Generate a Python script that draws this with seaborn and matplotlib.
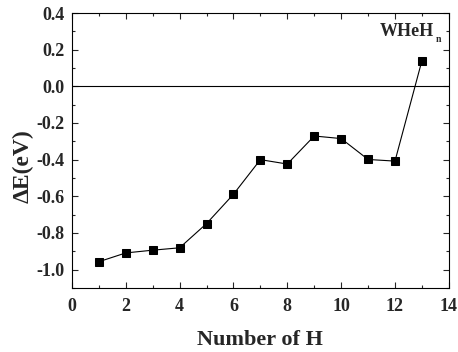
import matplotlib
matplotlib.use("Agg")
import matplotlib.pyplot as plt
import seaborn as sns
import pandas as pd
from matplotlib.ticker import MultipleLocator

# number of H atoms and binding energy change
n_h = [1, 2, 3, 4, 5, 6, 7, 8, 9, 10, 11, 12, 13]
delta_e = [-0.957, -0.909, -0.894, -0.881, -0.749, -0.589, -0.400,
           -0.424, -0.271, -0.285, -0.399, -0.408, 0.140]

df = pd.DataFrame({"n": n_h, "dE": delta_e})

sns.set_style("ticks")
plt.rcParams["font.family"] = ["Liberation Serif", "DejaVu Serif"]
plt.rcParams["font.weight"] = "bold"

fig = plt.figure(figsize=(4.58, 3.52), dpi=100)
ax = fig.add_axes([0.157, 0.182, 0.823, 0.781])

sns.lineplot(data=df, x="n", y="dE", ax=ax, color="black", linewidth=0.8,
             marker="s", markersize=5.5, markeredgecolor="black")
ax.axhline(0, color="black", linewidth=0.8)

ax.set_xlim(0, 14)
ax.set_ylim(-1.1, 0.4)
ax.xaxis.set_major_locator(MultipleLocator(2))
ax.xaxis.set_minor_locator(MultipleLocator(1))
ax.yaxis.set_minor_locator(MultipleLocator(0.1))
ax.set_yticks([-1.0, -0.8, -0.6, -0.4, -0.2, 0.0, 0.2, 0.4])
ax.set_yticklabels(["-1.0", "-0.8", "-0.6", "-0.4", "-0.2", "0.0", "0.2", "0.4"])
ax.tick_params(which="both", direction="in", top=True, right=True,
               labelsize=13, width=0.8)
ax.tick_params(which="major", length=4)
ax.tick_params(which="minor", length=2)
ax.tick_params(axis="x", pad=7)
ax.tick_params(axis="y", pad=5)
for lab in ax.get_xticklabels() + ax.get_yticklabels():
    lab.set_fontweight("bold")
for sp in ax.spines.values():
    sp.set_linewidth(0.8)
    sp.set_color("black")

ax.set_xlabel("Number of H", fontsize=16, fontweight="bold", labelpad=11)
ax.set_ylabel("\u0394E(eV)", fontsize=17, fontweight="bold")
ax.yaxis.set_label_coords(-0.102, 0.444)
ax.text(13.45, 0.297, "WHeH", ha="right", va="center",
        fontsize=13, fontweight="bold")
ax.text(13.5, 0.255, "n", ha="left", va="center",
        fontsize=7, fontweight="bold")

fig.savefig("out.png", dpi=100)
